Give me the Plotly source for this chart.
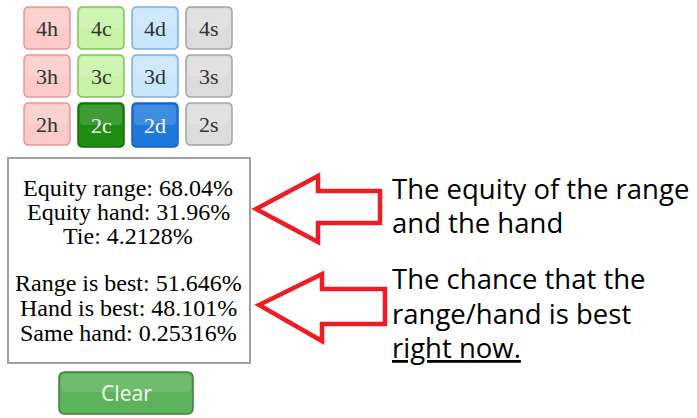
import plotly.graph_objects as go

# ---- data ----
ranks = ["4", "3", "2"]
suits = ["h", "c", "d", "s"]
selected = ["2c", "2d"]
stat_labels_a = ["Equity range", "Equity hand", "Tie"]
stat_values_a = ["68.04%", "31.96%", "4.2128%"]
stat_labels_b = ["Range is best", "Hand is best", "Same hand"]
stat_values_b = ["51.646%", "48.101%", "0.25316%"]
note_a = ["The equity of the range", "and the hand"]
note_b = ["The chance that the", "range/hand is best", "<u>right now.</u>"]
button_label = "Clear"

# ---- styles ----
W, H = 697, 418
suit_fill = {"h": "#fdcaca", "c": "#c8f2a6", "d": "#c9e6fd", "s": "#dcdcdc"}
suit_line = {"h": "#e49a9a", "c": "#82c25a", "d": "#80acdf", "s": "#a4a4a4"}
sel_fill = {"c": "#1f8c12", "d": "#1d79dc"}
sel_line = {"c": "#176a0c", "d": "#1760b8"}
RED = "#ee1c24"


def rrect(x0, y0, x1, y1, r):
    return (f"M{x0+r},{y0} L{x1-r},{y0} Q{x1},{y0} {x1},{y0+r} "
            f"L{x1},{y1-r} Q{x1},{y1} {x1-r},{y1} L{x0+r},{y1} "
            f"Q{x0},{y1} {x0},{y1-r} L{x0},{y0+r} Q{x0},{y0} {x0+r},{y0} Z")


shapes = []
annos = []

col_x = [24, 78, 132, 186]
row_y = [7, 55, 103]
bw, bh = 46, 42
for ri, rk in enumerate(ranks):
    for ci, s in enumerate(suits):
        card = rk + s
        x0, y0 = col_x[ci], row_y[ri]
        x1, y1 = x0 + bw, y0 + bh
        if card in selected:
            fill, line, tc = sel_fill[s], sel_line[s], "white"
            y1 += 2
        else:
            fill, line, tc = suit_fill[s], suit_line[s], "#333333"
        shapes.append(dict(type="path", path=rrect(x0, y0, x1, y1, 5),
                           fillcolor=fill, line=dict(color=line, width=1.5),
                           xref="x", yref="y", layer="below"))
        shapes.append(dict(type="path", path=rrect(x0 + 2, y0 + 2, x1 - 2, (y0 + y1) / 2, 4),
                           fillcolor="rgba(255,255,255,0.15)", line=dict(width=0),
                           xref="x", yref="y", layer="below"))
        annos.append(dict(x=(x0 + x1) / 2, y=(y0 + y1) / 2, text=card,
                          showarrow=False, xanchor="center", yanchor="middle",
                          font=dict(family="Liberation Serif", size=22, color=tc)))

# stats box
shapes.append(dict(type="rect", x0=8, y0=158, x1=250, y1=363,
                   fillcolor="white", line=dict(color="#a0a0a0", width=2),
                   xref="x", yref="y", layer="below"))
ys_a = [188, 212, 236]
ys_b = [283, 308, 333]
for lab, val, yy in zip(stat_labels_a, stat_values_a, ys_a):
    annos.append(dict(x=128, y=yy, text=f"{lab}: {val}", showarrow=False,
                      xanchor="center", yanchor="middle",
                      font=dict(family="Liberation Serif", size=24, color="black")))
for lab, val, yy in zip(stat_labels_b, stat_values_b, ys_b):
    annos.append(dict(x=128, y=yy, text=f"{lab}: {val}", showarrow=False,
                      xanchor="center", yanchor="middle",
                      font=dict(family="Liberation Serif", size=24, color="black")))

# clear button
shapes.append(dict(type="path", path=rrect(59, 372, 193, 414, 6),
                   fillcolor="#5cb35c", line=dict(color="#3d7f3d", width=1.5),
                   xref="x", yref="y", layer="below"))
shapes.append(dict(type="path", path=rrect(61, 374, 191, 392, 5),
                   fillcolor="rgba(255,255,255,0.12)", line=dict(width=0),
                   xref="x", yref="y", layer="below"))
annos.append(dict(x=126, y=393, text=button_label, showarrow=False,
                  xanchor="center", yanchor="middle",
                  font=dict(family="Noto Sans", size=21, color="#eef8ee")))


# arrows
def arrow(tip_x, tip_y, back_x, head_top, head_bot, sh_top, sh_bot, right):
    return (f"M{tip_x},{tip_y} L{back_x},{head_top} L{back_x},{sh_top} "
            f"L{right},{sh_top} L{right},{sh_bot} L{back_x},{sh_bot} "
            f"L{back_x},{head_bot} Z")


shapes.append(dict(type="path", path=arrow(256, 209, 318, 176, 242, 191, 223, 380),
                   fillcolor="white", line=dict(color=RED, width=4.5),
                   xref="x", yref="y"))
shapes.append(dict(type="path", path=arrow(259, 305, 322, 274, 341, 289, 324, 385),
                   fillcolor="white", line=dict(color=RED, width=4.5),
                   xref="x", yref="y"))

for txt, yy in zip(note_a, [188, 222]):
    annos.append(dict(x=390, y=yy, text=txt, showarrow=False,
                      xanchor="left", yanchor="middle",
                      font=dict(family="Open Sans", size=27.5, color="black")))
for txt, yy in zip(note_b, [278, 313, 347]):
    annos.append(dict(x=390, y=yy, text=txt, showarrow=False,
                      xanchor="left", yanchor="middle",
                      font=dict(family="Open Sans", size=27.5, color="black")))

fig = go.Figure()
fig.update_layout(
    width=W, height=H, margin=dict(l=0, r=0, t=0, b=0),
    paper_bgcolor="white", plot_bgcolor="white",
    xaxis=dict(range=[0, W], visible=False, fixedrange=True),
    yaxis=dict(range=[H, 0], visible=False, fixedrange=True),
    shapes=shapes, annotations=annos, showlegend=False,
)
fig.write_html("out.html", config={"displayModeBar": False},
               post_script="document.body.style.margin='0';document.body.style.overflow='hidden';")
